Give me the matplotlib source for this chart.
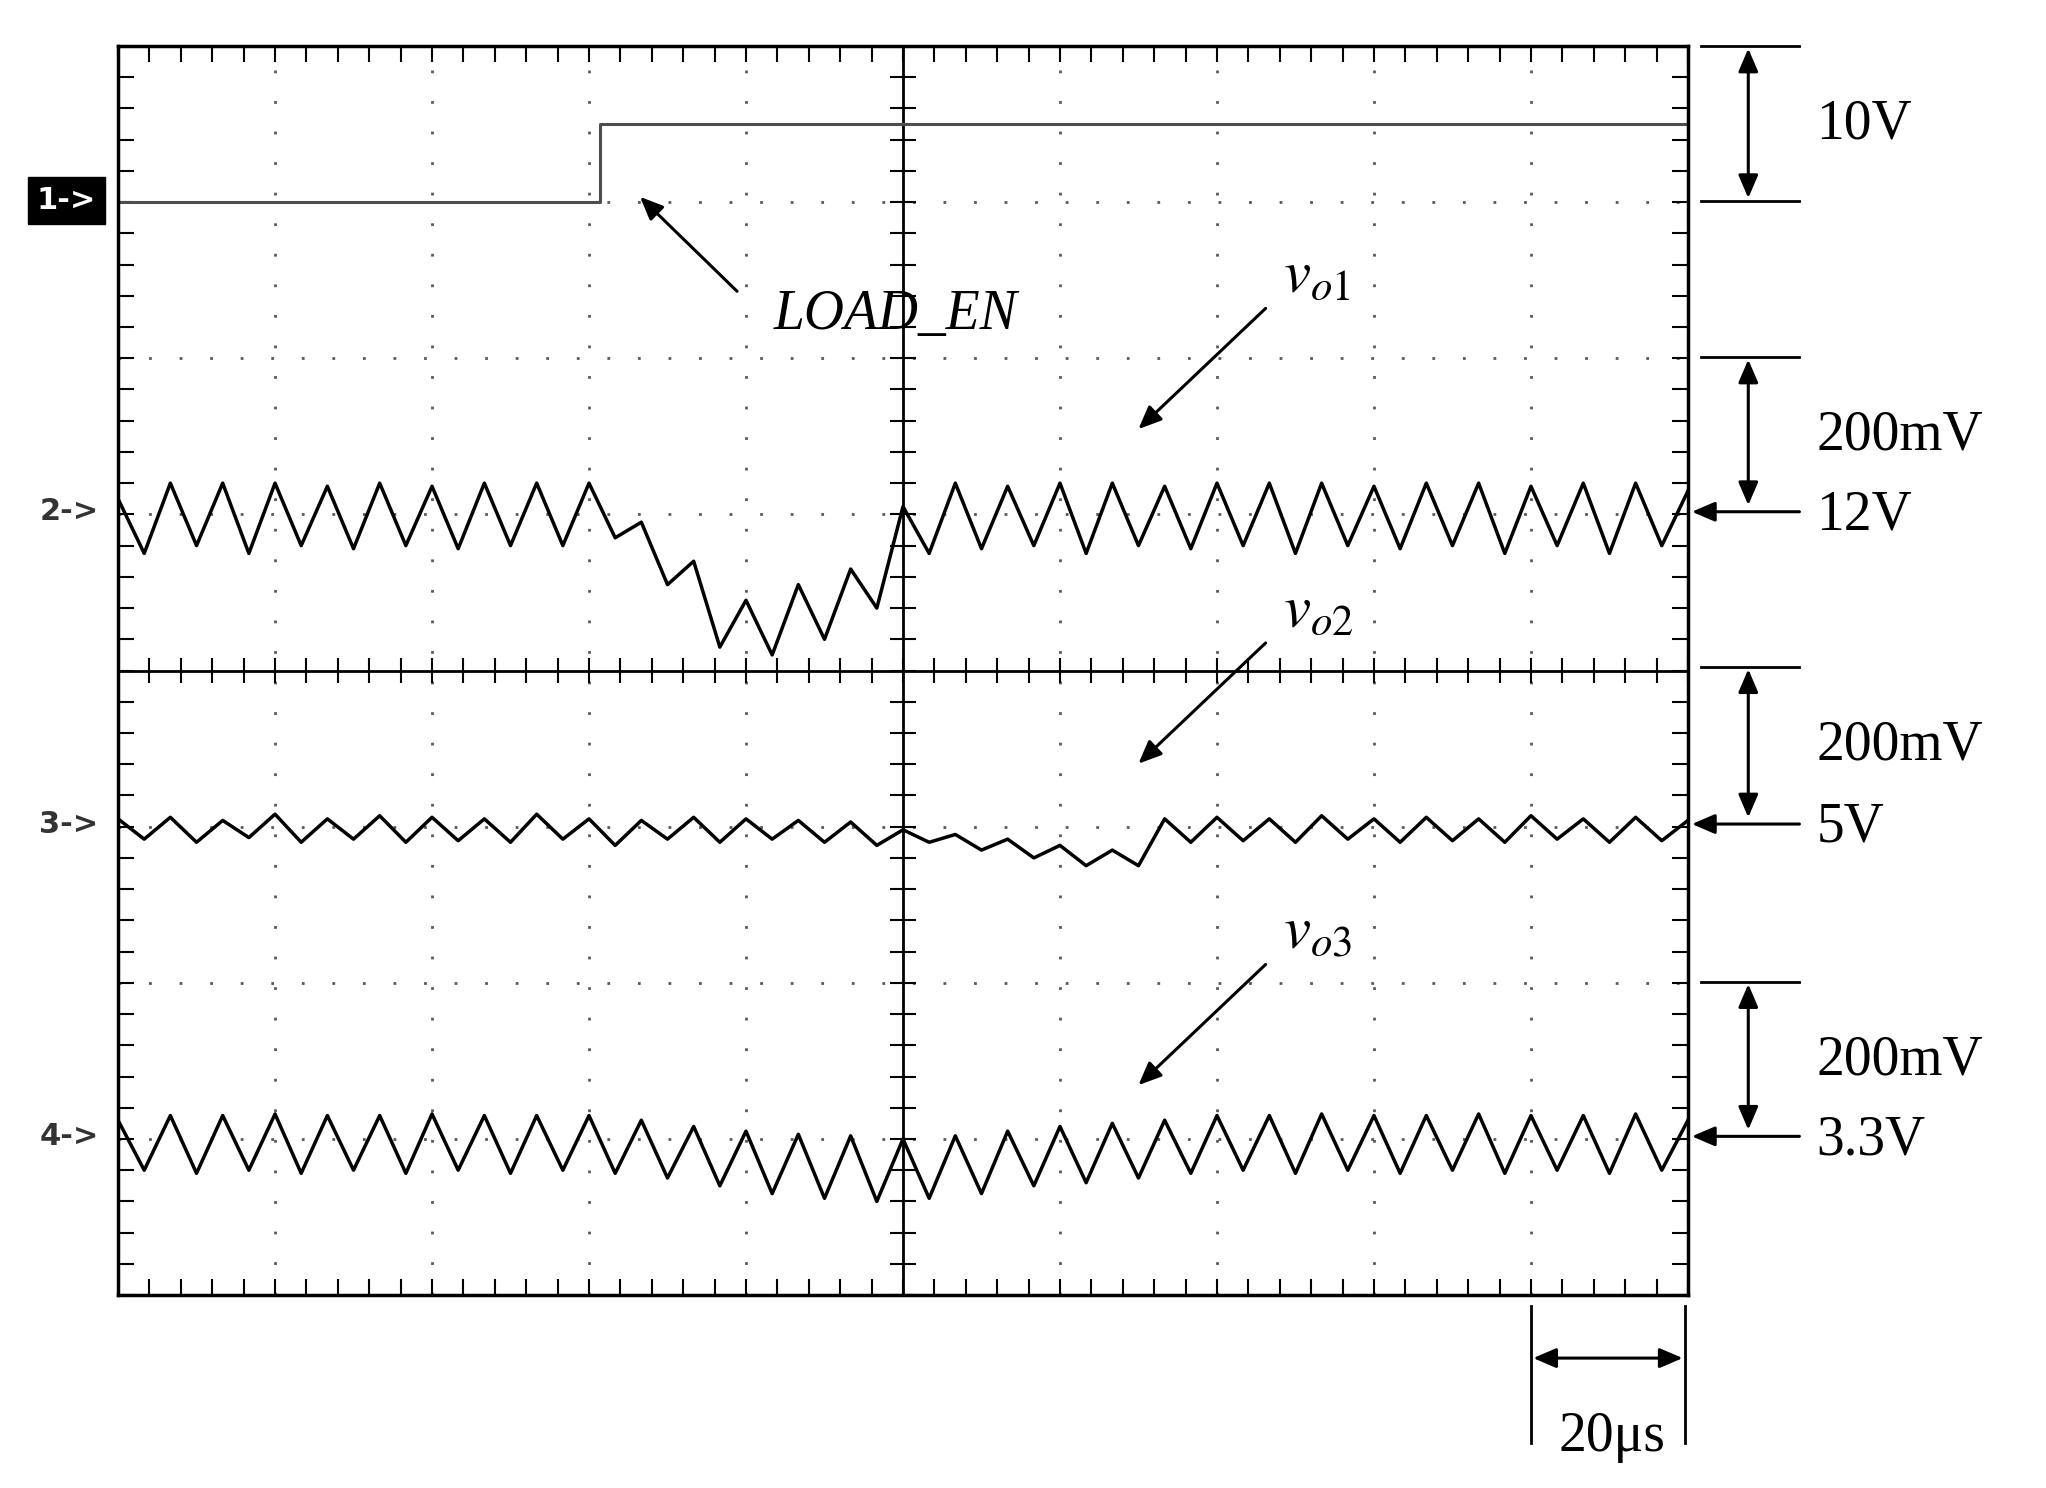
import numpy as np
import matplotlib
matplotlib.use("Agg")
import matplotlib.pyplot as plt
matplotlib.rcParams['mathtext.fontset'] = 'stix'

# ---- data (divisions) ----
ch1_t = [0.0, 3.07, 3.07, 10.0]
ch1_v = [7.0, 7.0, 7.5, 7.5]
ch2_off = [0.1, -0.25, 0.2, -0.2, 0.2, -0.25, 0.2, -0.2, 0.18, -0.22, 0.2, -0.2, 0.18, -0.22, 0.2, -0.2,
           0.2, -0.2, 0.2, -0.15, -0.05, -0.45, -0.3, -0.85, -0.55, -0.9, -0.45, -0.8, -0.35, -0.6, 0.05,
           -0.25, 0.2, -0.22, 0.18, -0.2, 0.2, -0.25, 0.2, -0.2, 0.18, -0.22, 0.2, -0.2, 0.2, -0.25,
           0.2, -0.2, 0.18, -0.22, 0.2, -0.2, 0.2, -0.25, 0.18, -0.2, 0.2, -0.25, 0.2, -0.2, 0.15]
ch3_off = [0.05, -0.08, 0.06, -0.1, 0.04, -0.07, 0.08, -0.1, 0.05, -0.08, 0.07, -0.1, 0.06, -0.09, 0.05,
           -0.1, 0.08, -0.08, 0.05, -0.12, 0.04, -0.08, 0.06, -0.1, 0.05, -0.08, 0.04, -0.1, 0.03, -0.12,
           -0.02, -0.1, -0.05, -0.15, -0.08, -0.2, -0.12, -0.25, -0.15, -0.25, 0.05, -0.1, 0.06, -0.09,
           0.05, -0.1, 0.07, -0.08, 0.05, -0.1, 0.06, -0.09, 0.05, -0.1, 0.07, -0.08, 0.05, -0.1, 0.06, -0.09, 0.04]
ch4_off = [0.12, -0.2, 0.15, -0.22, 0.15, -0.2, 0.16, -0.22, 0.15, -0.2, 0.15, -0.22, 0.16, -0.2, 0.15,
           -0.22, 0.15, -0.2, 0.15, -0.22, 0.12, -0.25, 0.08, -0.3, 0.05, -0.35, 0.03, -0.38, 0.02, -0.4,
           0.0, -0.38, 0.02, -0.35, 0.05, -0.3, 0.08, -0.28, 0.1, -0.25, 0.12, -0.22, 0.15, -0.2, 0.15,
           -0.22, 0.16, -0.2, 0.15, -0.22, 0.15, -0.2, 0.16, -0.22, 0.15, -0.2, 0.15, -0.22, 0.16, -0.2, 0.12]
levels = [5.0, 3.0, 1.0]

W, H = 1560.0, 1134.0
def fx(x): return x / W
def fy(y): return 1 - y / H

fig = plt.figure(figsize=(20.46, 14.88), dpi=100)
ax = fig.add_axes([fx(90), fy(987), fx(1287) - fx(90), fy(35) - fy(987)])
ax.set_xlim(0, 10); ax.set_ylim(0, 8)
ax.set_xticks([]); ax.set_yticks([])
for s in ax.spines.values():
    s.set_linewidth(2.5)

for i in range(1, 10):
    if i != 5:
        ax.axvline(i, color='0.35', lw=2, ls=(0, (1, 10)))
for j in range(1, 8):
    if j != 4:
        ax.axhline(j, color='0.35', lw=2, ls=(0, (1, 10)))
ax.axvline(5, color='k', lw=2); ax.axhline(4, color='k', lw=2)
mt = np.arange(0, 10.01, 0.2)
my = np.arange(0, 8.01, 0.2)
ax.vlines(mt, 3.92, 4.08, color='k', lw=1.5)
ax.hlines(my, 4.92, 5.08, color='k', lw=1.5)
ax.vlines(mt, 0, 0.1, color='k', lw=1.5); ax.vlines(mt, 7.9, 8, color='k', lw=1.5)
ax.hlines(my, 0, 0.1, color='k', lw=1.5); ax.hlines(my, 9.9, 10, color='k', lw=1.5)

ax.plot(ch1_t, ch1_v, color='0.3', lw=2.2)
for lev, off in zip(levels, [ch2_off, ch3_off, ch4_off]):
    t = np.linspace(0, 10, len(off))
    ax.plot(t, lev + np.array(off), color='k', lw=2.5)

serif = 'Liberation Serif'
fs = 40
fig.text(fx(28), fy(153), "1->", color='white', fontsize=22, fontweight='bold', va='center', ha='left',
         family='DejaVu Sans', bbox=dict(boxstyle='square,pad=0.3', fc='black', ec='black'))
for lab, y in [("2->", 390), ("3->", 628), ("4->", 866)]:
    fig.text(fx(30), fy(y), lab, color='0.2', fontsize=22, fontweight='bold', va='center', ha='left', family='DejaVu Sans')

AS = '-|>,head_length=7,head_width=3'
DS = '<|-|>,head_length=7,head_width=3'
def arrow(x0, y0, x1, y1, style=AS):
    fig.add_artist(matplotlib.patches.FancyArrowPatch((fx(x0), fy(y0)), (fx(x1), fy(y1)), transform=fig.transFigure,
                   arrowstyle=style, color='k', lw=2.2, mutation_scale=2, shrinkA=0, shrinkB=0))
arrow(562, 222, 488, 150)
fig.text(fx(590), fy(240), "LOAD_EN", fontsize=fs, style='italic', family=serif, va='center')
for y0, sub in [(210, "o1"), (465, "o2"), (710, "o3")]:
    fig.text(fx(978), fy(y0), r"$v_{%s}$" % sub, fontsize=fs + 4, va='center')
    arrow(965, y0 + 25, 868, y0 + 117)

def hline(x0, x1, y):
    fig.add_artist(plt.Line2D([fx(x0), fx(x1)], [fy(y), fy(y)], color='k', lw=2, transform=fig.transFigure))
hline(1297, 1372, 35); hline(1297, 1372, 153); arrow(1333, 37, 1333, 151, DS)
fig.text(fx(1385), fy(95), "10V", fontsize=fs, family=serif, va='center')
for top, lev, lab in [(272, 390, "12V"), (508, 628, "5V"), (748, 866, "3.3V")]:
    hline(1297, 1372, top)
    arrow(1333, top + 2, 1333, lev - 5, DS)
    arrow(1372, lev, 1290, lev)
    fig.text(fx(1385), fy(top + 60), "200mV", fontsize=fs, family=serif, va='center')
    fig.text(fx(1385), fy(lev + 3), lab, fontsize=fs, family=serif, va='center')

for x in (1167, 1285):
    fig.add_artist(plt.Line2D([fx(x), fx(x)], [fy(995), fy(1100)], color='k', lw=2, transform=fig.transFigure))
arrow(1169, 1035, 1283, 1035, DS)
fig.text(fx(1188), fy(1095), "20μs", fontsize=fs, family=serif, va='center')

fig.savefig("out.png", dpi=100)
